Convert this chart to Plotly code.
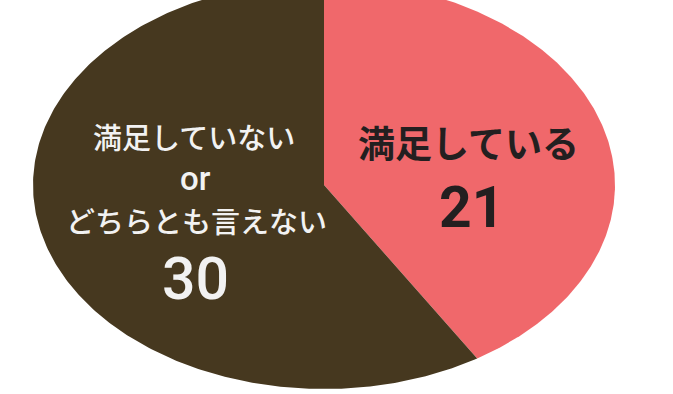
import numpy as np
import plotly.graph_objects as go

# ---- data ----
categories = ["満足している", "満足していない or どちらとも言えない"]
label_lines = [["満足している"], ["満足していない", "or", "どちらとも言えない"]]
values = [21, 30]
colors = ["#F0686B", "#46381F"]
text_colors = ["#231F20", "#F2F2F2"]

# ---- layout geometry (pixels) ----
W, H = 673, 394
ML, MR, MT, MB = 33, 58, 0, 5
CX, CY, RX, RY = 324, 185, 291, 204   # pixel centre / radii of ellipse


def dx(px):
    return (px - CX) / RX


def dy(py):
    return (CY - py) / RY


fig = go.Figure()

total = float(sum(values))
start = 0.0
for val, col, name in zip(values, colors, categories):
    a0 = start / total * 2 * np.pi
    a1 = (start + val) / total * 2 * np.pi
    th = np.linspace(a0, a1, 300)
    xs = np.concatenate([[0], np.sin(th), [0]])
    ys = np.concatenate([[0], np.cos(th), [0]])
    fig.add_trace(go.Scatter(x=xs, y=ys, mode="lines", fill="toself",
                             fillcolor=col, line=dict(width=0, color=col),
                             hoverinfo="skip", name=name, showlegend=False))
    start += val

jp = "Noto Sans CJK JP, sans-serif"
num = "Liberation Sans Narrow, Roboto, Noto Sans CJK JP, sans-serif"

# right slice label
fig.add_annotation(x=dx(468), y=dy(142), xref="x", yref="y",
                   text=label_lines[0][0], showarrow=False,
                   font=dict(family=jp, size=37, color=text_colors[0], weight=700))
fig.add_annotation(x=dx(471), y=dy(207), xref="x", yref="y",
                   text=str(values[0]), showarrow=False,
                   font=dict(family=num, size=57, color=text_colors[0], weight=700))

# left slice label
left_pos = [(194, 136, 29, jp), (195, 178, 33, num), (196, 220, 29, jp)]
for line, (px, py, fs, fam) in zip(label_lines[1], left_pos):
    fig.add_annotation(x=dx(px), y=dy(py), xref="x", yref="y",
                       text=line, showarrow=False,
                       font=dict(family=fam, size=fs, color=text_colors[1], weight=500))
fig.add_annotation(x=dx(195), y=dy(278), xref="x", yref="y",
                   text=str(values[1]), showarrow=False,
                   font=dict(family=num, size=59, color=text_colors[1], weight=500))

fig.update_layout(
    width=W, height=H,
    margin=dict(l=ML, r=MR, t=MT, b=MB),
    paper_bgcolor="white", plot_bgcolor="white",
    xaxis=dict(range=[-1, 1], visible=False, fixedrange=True),
    yaxis=dict(range=[dy(H - MB), dy(MT)], visible=False, fixedrange=True),
    showlegend=False,
)

fig.write_html("out.html")
